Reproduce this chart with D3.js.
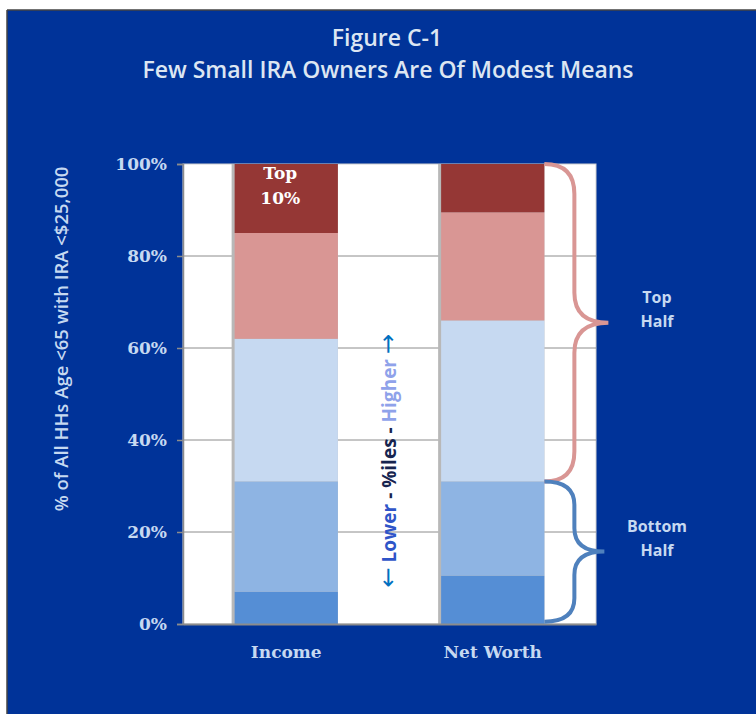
<!DOCTYPE html>
<html>
<head>
<meta charset="utf-8">
<script src="https://cdn.jsdelivr.net/npm/d3@7"></script>
<style>
  body { margin: 0; background: #fff; }
  svg { display: block; }
</style>
</head>
<body>
<script>
// Data (shares of households, by percentile band, bottom to top)
var categories = ["Income", "Net Worth"];
var bandNames = ["p0", "p1", "p2", "p3", "p4"];
var incomeShares = [0.07, 0.24, 0.31, 0.23, 0.15];
var netWorthShares = [0.105, 0.205, 0.35, 0.235, 0.105];
var bandColors = ["#558ED5", "#8EB4E3", "#C6D9F1", "#D99694", "#953735"];
var yTicks = [0, 0.2, 0.4, 0.6, 0.8, 1];
var braceFrom = [0.31, 0.005];
var braceTo = [1, 0.31];
var braceLabels = [["Top", "Half"], ["Bottom", "Half"]];
var braceColors = ["#D99694", "#4F81BD"];

// SVG area
var svgWidth = 756;
var svgHeight = 714;

var plot = { left: 183, right: 596, top: 164, bottom: 624 };

var svg = d3.select("body")
  .append("svg")
  .attr("width", svgWidth)
  .attr("height", svgHeight);

// blue panel with a thin dark edge on top/left
svg.append("rect")
  .attr("x", 7).attr("y", 10)
  .attr("width", svgWidth - 7).attr("height", svgHeight - 10)
  .attr("fill", "#003399");
svg.append("line")
  .attr("x1", 7).attr("x2", svgWidth).attr("y1", 10).attr("y2", 10)
  .attr("stroke", "#444").attr("stroke-width", 1.5);
svg.append("line")
  .attr("x1", 7).attr("x2", 7).attr("y1", 10).attr("y2", svgHeight)
  .attr("stroke", "#444").attr("stroke-width", 1.5);

// title
var title = svg.append("text")
  .attr("text-anchor", "middle")
  .attr("font-family", "'Open Sans', sans-serif")
  .attr("font-weight", 600)
  .attr("font-size", 23)
  .attr("fill", "#DCE6F2");
title.append("tspan").attr("x", 387).attr("y", 46).text("Figure C-1");
title.append("tspan").attr("x", 388).attr("y", 78).text("Few Small IRA Owners Are Of Modest Means");

// scales
var xBandScale = d3.scaleBand()
  .domain(categories)
  .range([plot.left, plot.right])
  .paddingInner(0.5)
  .paddingOuter(0.25);

var yLinearScale = d3.scaleLinear()
  .domain([0, 1])
  .range([plot.bottom, plot.top]);

// plot area
svg.append("rect")
  .attr("x", plot.left).attr("y", plot.top)
  .attr("width", plot.right - plot.left)
  .attr("height", plot.bottom - plot.top)
  .attr("fill", "#fff")
  .attr("stroke", "#d0d0d0")
  .attr("stroke-width", 1);

// gridlines
svg.append("g")
  .selectAll("line")
  .data(yTicks.filter(d => d > 0 && d < 1))
  .enter()
  .append("line")
  .attr("x1", plot.left).attr("x2", plot.right)
  .attr("y1", d => yLinearScale(d)).attr("y2", d => yLinearScale(d))
  .attr("stroke", "#8c8c8c")
  .attr("stroke-width", 1);

// stack the series
var rows = categories.map(function(c, i) {
  var shares = i === 0 ? incomeShares : netWorthShares;
  var row = { name: c };
  bandNames.forEach(function(b, j) { row[b] = shares[j]; });
  return row;
});
var stacked = d3.stack().keys(bandNames)(rows);

// bar shadows
svg.append("g")
  .selectAll("rect")
  .data(categories)
  .enter()
  .append("rect")
  .attr("x", d => xBandScale(d) - 3)
  .attr("y", plot.top)
  .attr("width", xBandScale.bandwidth() + 3)
  .attr("height", plot.bottom - plot.top)
  .attr("fill", "#b8b8b8");

var layers = svg.append("g")
  .selectAll("g")
  .data(stacked)
  .enter()
  .append("g")
  .attr("fill", (d, i) => bandColors[i]);

layers.selectAll("rect")
  .data(d => d)
  .enter()
  .append("rect")
  .attr("x", d => xBandScale(d.data.name))
  .attr("y", d => yLinearScale(d[1]))
  .attr("width", xBandScale.bandwidth())
  .attr("height", d => yLinearScale(d[0]) - yLinearScale(d[1]));

// axes
var leftAxis = d3.axisLeft(yLinearScale)
  .tickValues(yTicks)
  .tickSize(6)
  .tickPadding(10)
  .tickFormat(d3.format(".0%"));

var yAxisG = svg.append("g")
  .attr("transform", `translate(${plot.left}, 0)`)
  .call(leftAxis);
yAxisG.select(".domain").attr("stroke", "#8c8c8c").attr("stroke-width", 1.5);
yAxisG.selectAll(".tick line").attr("stroke", "#8c8c8c").attr("stroke-width", 1.5);
yAxisG.selectAll(".tick text")
  .attr("fill", "#C6D9F1")
  .attr("font-family", "'DejaVu Serif', serif")
  .attr("font-weight", "bold")
  .attr("font-size", 17);

var bottomAxis = d3.axisBottom(xBandScale).tickSize(0).tickPadding(22);
var xAxisG = svg.append("g")
  .attr("transform", `translate(0, ${plot.bottom})`)
  .call(bottomAxis);
xAxisG.select(".domain").attr("stroke", "#8c8c8c").attr("stroke-width", 2);
xAxisG.selectAll(".tick text")
  .attr("fill", "#C6D9F1")
  .attr("font-family", "'DejaVu Serif', serif")
  .attr("font-weight", "bold")
  .attr("font-size", 17);

// y-axis title
svg.append("text")
  .attr("transform", "translate(68, 339) rotate(-90)")
  .attr("text-anchor", "middle")
  .attr("font-family", "'Open Sans', sans-serif")
  .attr("font-weight", 600)
  .attr("font-size", 18.5)
  .attr("fill", "#C6D9F1")
  .text("% of All HHs Age <65 with IRA <$25,000");

// "Top 10%" label in the top income band
var topLabel = svg.append("text")
  .attr("text-anchor", "middle")
  .attr("font-family", "'DejaVu Serif', serif")
  .attr("font-weight", "bold")
  .attr("font-size", 17)
  .attr("fill", "#fff");
var incomeCenter = xBandScale("Income") + xBandScale.bandwidth() / 2 - 6;
topLabel.append("tspan").attr("x", incomeCenter).attr("y", yLinearScale(0.967)).text("Top");
topLabel.append("tspan").attr("x", incomeCenter).attr("y", yLinearScale(0.913)).text("10%");

// rotated percentile note between bars
var midX = (xBandScale("Income") + xBandScale.bandwidth() + xBandScale("Net Worth")) / 2 + 6;
var note = svg.append("text")
  .attr("transform", `translate(${midX}, ${yLinearScale(0.355)}) rotate(-90)`)
  .attr("text-anchor", "middle")
  .attr("font-family", "'Open Sans', 'DejaVu Sans', sans-serif")
  .attr("font-weight", "bold")
  .attr("font-size", 19);
note.append("tspan").attr("fill", "#0070C0").attr("font-family", "'DejaVu Sans', sans-serif")
  .attr("font-size", 24).attr("font-weight", "normal").text("\u2190");
note.append("tspan").attr("fill", "#2F55C8").text(" Lower");
note.append("tspan").attr("fill", "#17244F").text(" - %iles - ");
note.append("tspan").attr("fill", "#8FA2EA").text("Higher ");
note.append("tspan").attr("fill", "#0070C0").attr("font-family", "'DejaVu Sans', sans-serif")
  .attr("font-size", 24).attr("font-weight", "normal").text("\u2192");

// braces
var braceLeft = xBandScale("Net Worth") + xBandScale.bandwidth();
var braceMid = braceLeft + 30;
var braceTips = [braceLeft + 64, braceLeft + 60];

function bracePath(y0, y1, xt) {
  var ym = (y0 + y1) / 2;
  var r = Math.min(30, (y1 - y0) / 6);
  return "M" + braceLeft + "," + y0 +
    "Q" + braceMid + "," + y0 + " " + braceMid + "," + (y0 + r) +
    "L" + braceMid + "," + (ym - r) +
    "Q" + braceMid + "," + ym + " " + xt + "," + ym +
    "Q" + braceMid + "," + ym + " " + braceMid + "," + (ym + r) +
    "L" + braceMid + "," + (y1 - r) +
    "Q" + braceMid + "," + y1 + " " + braceLeft + "," + y1;
}

svg.append("g")
  .selectAll("path")
  .data(braceFrom)
  .enter()
  .append("path")
  .attr("d", (d, i) => bracePath(yLinearScale(braceTo[i]), yLinearScale(d), braceTips[i]))
  .attr("fill", "none")
  .attr("stroke", (d, i) => braceColors[i])
  .attr("stroke-width", 4);

var braceText = svg.append("g")
  .selectAll("text")
  .data(braceLabels)
  .enter()
  .append("text")
  .attr("text-anchor", "middle")
  .attr("font-family", "'Open Sans', sans-serif")
  .attr("font-weight", "bold")
  .attr("font-size", 16)
  .attr("fill", "#C6D9F1");

braceText.each(function(lines, i) {
  var ym = (yLinearScale(braceTo[i]) + yLinearScale(braceFrom[i])) / 2;
  var t = d3.select(this);
  t.append("tspan").attr("x", 657).attr("y", ym - 20).text(lines[0]);
  t.append("tspan").attr("x", 657).attr("y", ym + 4).text(lines[1]);
});
</script>
</body>
</html>
